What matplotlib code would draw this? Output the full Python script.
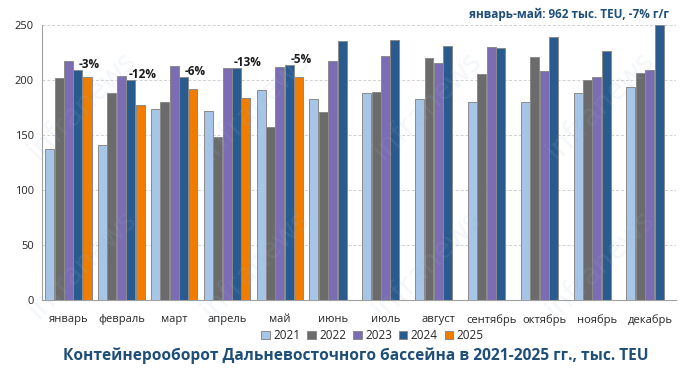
import matplotlib
matplotlib.use("Agg")
import matplotlib.pyplot as plt
import numpy as np

months = ["январь", "февраль", "март", "апрель", "май", "июнь", "июль",
          "август", "сентябрь", "октябрь", "ноябрь", "декабрь"]
years = ["2021", "2022", "2023", "2024", "2025"]
v2021 = [137, 141, 174, 172, 191, 183, 188, 183, 180, 180, 188, 194]
v2022 = [202, 188, 180, 148, 157, 171, 189, 220, 205, 221, 200, 206]
v2023 = [217, 204, 213, 211, 212, 217, 222, 215, 230, 208, 203, 209]
v2024 = [209, 200, 203, 211, 214, 235, 236, 231, 229, 239, 226, 250]
v2025 = [203, 177, 192, 184, 203]
changes = ["-3%", "-12%", "-6%", "-13%", "-5%"]
colors = ["#A7C5E6", "#6B6B6B", "#7B6CB3", "#2A5B8E", "#F07D00"]
title = "Контейнерооборот Дальневосточного бассейна в 2021-2025 гг., тыс. TEU"
note = "январь-май: 962 тыс. TEU, -7% г/г"

plt.rcParams['font.family'] = ['Open Sans', 'DejaVu Sans']
fig = plt.figure(figsize=(6.9, 3.78), dpi=100)
ax = fig.add_axes([0.061, 0.206, 0.919, 0.728])

series = [v2021, v2022, v2023, v2024, v2025]
x = np.arange(len(months))
slot = 0.178
bw = 0.17
for i, (vals, c, y) in enumerate(zip(series, colors, years)):
    xs = x[:len(vals)] + (i - 2) * slot
    ax.bar(xs, vals, width=bw, color=c, edgecolor="#8A8A8A", linewidth=0.7,
           label=y, zorder=3)

for j, lab in enumerate(changes):
    ax.text(x[j] + 2 * slot + 0.04, v2024[j] - 1.0, lab, ha="center", va="bottom",
            fontsize=8.5, fontweight="bold", color="#1a1a1a", zorder=5)

ax.set_xlim(-0.5, 11.5)
ax.set_ylim(0, 250)
ax.set_yticks([0, 50, 100, 150, 200, 250])
ax.set_xticks(x)
ax.set_xticklabels(months)
ax.tick_params(axis="both", length=0, labelsize=8, colors="#262626")
ax.tick_params(axis="x", pad=10)
ax.tick_params(axis="y", pad=6)
ax.yaxis.grid(True, linestyle=(0, (3, 2)), color="#D0D0D0", linewidth=0.7, zorder=0)
for s in ["top", "right"]:
    ax.spines[s].set_visible(False)
ax.spines["left"].set_color("#A0A0A0")
ax.spines["bottom"].set_color("#A0A0A0")

# watermark
for wx in [0.12, 0.37, 0.62, 0.87]:
    for wy in [0.30, 0.72]:
        fig.text(wx, wy, "infranews", rotation=45, fontsize=22, color="#9DB7D5",
                 alpha=0.12, ha="center", va="center", zorder=0)

leg = fig.legend(loc="center", bbox_to_anchor=(0.54, 0.113), ncol=5, frameon=False,
                 fontsize=8.5, handlelength=0.7, handleheight=0.7, handletextpad=0.3,
                 columnspacing=0.6, borderpad=0)
for t in leg.get_texts():
    t.set_color("#262626")

fig.text(0.515, 0.058, title, ha="center", va="center", fontsize=11.2,
         fontweight="bold", color="#1F4E79")
fig.text(0.97, 0.963, note, ha="right", va="center", fontsize=8.5,
         fontweight="bold", color="#1F4E79")

fig.savefig("out.png", dpi=100)
